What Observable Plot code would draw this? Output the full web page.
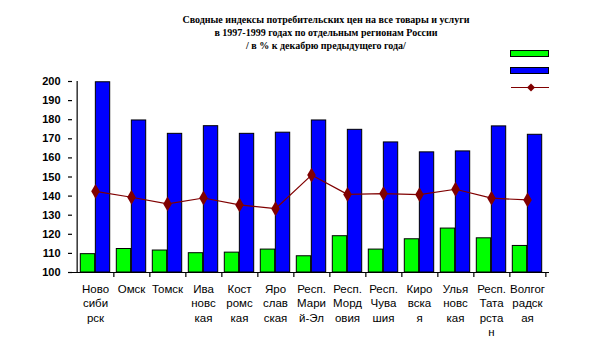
<!DOCTYPE html>
<html><head><meta charset="utf-8">
<script src="https://cdn.jsdelivr.net/npm/d3@7"></script>
<script src="https://cdn.jsdelivr.net/npm/@observablehq/plot@0.6"></script>
<style>
body{margin:0;background:#fff}
#wrap{position:relative;width:599px;height:361px;overflow:hidden}
#title{position:absolute;left:176px;width:300px;top:13px;text-align:center;font:bold 10px "Liberation Serif",serif;line-height:13px;color:#000;white-space:nowrap}
#legend{position:absolute;left:505px;top:44px}
#chart{position:absolute;left:0;top:0}
</style>
</head><body>
<div id="wrap"><div id="chart"></div>
<div id="title">Сводные индексы потребительских цен на все товары и услуги<br>в 1997-1999 годах по отдельным регионам России<br>/ в % к декабрю предыдущего года/</div>
<svg id="legend" width="50" height="50">
<rect x="5.5" y="6.5" width="38" height="6" fill="#00ff00" stroke="#000"/>
<rect x="5.5" y="23.5" width="38" height="6" fill="#0000ff" stroke="#000"/>
<line x1="6" x2="44" y1="43.5" y2="43.5" stroke="#800000" stroke-width="1.2"/>
<path d="M26,39.5 L30,43.5 L26,47.5 L22,43.5Z" fill="#800000"/>
</svg>
</div>
<script>
const regions = ["Ново\nсиби\nрск","Омск","Томск","Ива\nновс\nкая","Кост\nромс\nкая","Яро\nслав\nская","Респ.\nМари\nй-Эл","Респ.\nМорд\nовия","Респ.\nЧува\nшия","Киро\nвска\nя","Улья\nновс\nкая","Респ.\nТата\nрста\nн","Волгог\nрадск\nая"];
const index1997 = [109.6,112.3,111.5,110.1,110.4,112.0,108.5,119.0,112.0,117.4,123.0,117.9,113.9];
const index1998 = [199.6,179.6,172.6,176.6,172.6,173.2,179.6,174.7,168.1,162.9,163.4,176.5,172.1];
const index1999 = [142.5,139.4,135.9,139.0,135.4,133.4,151.0,140.9,141.3,140.8,143.6,138.9,138.0];
const yTicks = [100,110,120,130,140,150,160,170,180,190,200];

const rows = regions.map((r,i)=>({r, a:index1997[i], b:index1998[i], c:index1999[i]}));
const W=599,H=361,ml=72,mr=50,mt=81,mb=89;
const bw=(W-ml-mr)/regions.length;
const pad=3.3, half=(bw-2*pad)/2;

const chart = Plot.plot({
  width:W,height:H,marginLeft:ml,marginRight:mr,marginTop:mt,marginBottom:mb,
  style:{fontFamily:"Arial, 'Liberation Sans', sans-serif",background:"#fff",color:"#000"},
  x:{domain:regions,padding:0,axis:null},
  y:{domain:[100,200],axis:null},
  marks:[
    Plot.barY(rows,{x:"r",y1:100,y2:"a",fill:"#00ff00",stroke:"#000",strokeWidth:1,insetLeft:pad,insetRight:pad+half}),
    Plot.barY(rows,{x:"r",y1:100,y2:"b",fill:"#0000ff",stroke:"#000",strokeWidth:1,insetLeft:pad+half,insetRight:pad}),
    Plot.line(rows,{x:"r",y:"c",stroke:"#800000",strokeWidth:1.2}),
    Plot.dot(rows,{x:"r",y:"c",symbol:"diamond",r:4.5,fill:"#800000"}),
    Plot.ruleY([100],{stroke:"#000",strokeWidth:1.2}),
    Plot.ruleX([regions[0]],{x:d=>d,y1:100,y2:200,dx:-bw/2,stroke:"#000",strokeWidth:1.2}),
    Plot.ruleX(regions,{x:d=>d,y1:100,y2:100,dx:bw/2,insetBottom:-5,stroke:"#000",strokeWidth:1.2}),
    Plot.axisY({ticks:yTicks,tickSize:4,tickPadding:8,fontSize:11,fontWeight:"bold",tickFormat:d=>String(d),strokeWidth:1.2}),
    Plot.text(rows,{x:"r",y:100,text:"r",lineAnchor:"top",dy:11,fontSize:11.5,lineHeight:1.22,fill:"#000"})
  ]
});
document.getElementById("chart").appendChild(chart);
</script>
</body></html>
